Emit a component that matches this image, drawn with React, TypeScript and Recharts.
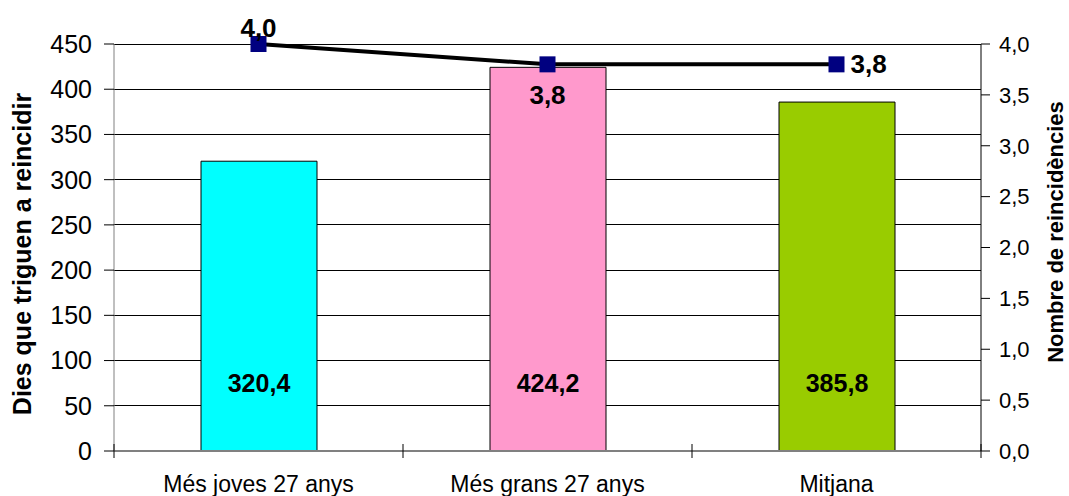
import React from 'react';
import {
  ComposedChart,
  Bar,
  Line,
  XAxis,
  YAxis,
  CartesianGrid,
  Cell,
  LabelList
} from 'recharts';

const categories = ['Més joves 27 anys', 'Més grans 27 anys', 'Mitjana'];
const diesReincidir = [320.4, 424.2, 385.8];
const nombreReincidencies = [4.0, 3.8, 3.8];
const barColors = ['#00FFFF', '#FF99CC', '#99CC00'];
const leftTicks = [0, 50, 100, 150, 200, 250, 300, 350, 400, 450];
const rightTicks = [0, 0.5, 1, 1.5, 2, 2.5, 3, 3.5, 4];

const data = categories.map((cat, i) => ({
  cat,
  dies: diesReincidir[i],
  reinc: nombreReincidencies[i]
}));

const W = 1069;
const H = 496;
const LEFT_W = 114;
const RIGHT_W = 88;
const PLOT_W = W - LEFT_W - RIGHT_W;
const FONT = '"Liberation Sans", Arial, sans-serif';

const comma = (v: number, d = 1) => v.toFixed(d).replace('.', ',');

const XTick = (props: any) => {
  const { x, y, payload, index } = props;
  const half = PLOT_W / categories.length / 2;
  return (
    <g>
      <line x1={x - half} x2={x - half} y1={y - 7} y2={y + 7} stroke="#000" />
      {index === categories.length - 1 && (
        <line x1={x + half} x2={x + half} y1={y - 7} y2={y + 7} stroke="#000" />
      )}
      <text x={x} y={y + 41} textAnchor="middle" fontSize={23} fontFamily={FONT} fill="#000">
        {payload.value}
      </text>
    </g>
  );
};

const BarLabel = (props: any) => {
  const { x, width, y, height, value } = props;
  return (
    <text
      x={x + width / 2}
      y={y + height - 68}
      textAnchor="middle"
      dominantBaseline="central"
      fontSize={25}
      fontWeight="bold"
      fontFamily={FONT}
      fill="#000"
    >
      {comma(value)}
    </text>
  );
};

const LineLabel = (props: any) => {
  const { x, y, value, index } = props;
  let tx = x;
  let ty = y;
  let anchor: 'middle' | 'start' = 'middle';
  if (index === 0) ty = y - 16;
  else if (index === 1) ty = y + 31;
  else {
    tx = x + 14;
    anchor = 'start';
  }
  return (
    <text
      x={tx}
      y={ty}
      textAnchor={anchor}
      dominantBaseline="central"
      fontSize={26}
      fontWeight="bold"
      fontFamily={FONT}
      fill="#000"
    >
      {comma(value)}
    </text>
  );
};

const SquareDot = (props: any) => {
  const { cx, cy, index } = props;
  return (
    <rect key={`dot-${index}`} x={cx - 8} y={cy - 8} width={16} height={16} fill="#000080" />
  );
};

export default function App() {
  return (
    <div style={{ position: 'absolute', left: 0, top: 0, background: '#fff' }}>
      <ComposedChart
        width={W}
        height={H}
        data={data}
        margin={{ top: 44, right: 0, bottom: 0, left: 0 }}
      >
        <CartesianGrid
          vertical={false}
          stroke="#000"
          strokeOpacity={1}
          shapeRendering="crispEdges"
          yAxisId="left"
        />
        <XAxis
          dataKey="cat"
          height={45}
          tick={<XTick />}
          tickLine={false}
          tickSize={0}
          tickMargin={0}
          axisLine={{ stroke: '#808080', strokeWidth: 2 }}
          interval={0}
        />
        <YAxis
          yAxisId="left"
          width={LEFT_W}
          domain={[0, 450]}
          ticks={leftTicks}
          interval={0}
          tickSize={10}
          tickMargin={12}
          axisLine={{ stroke: '#808080' }}
          tickLine={{ stroke: '#000' }}
          tick={{ fontSize: 25, fill: '#000', fontFamily: FONT }}
          label={{
            content: () => (
              <text
                x={22}
                y={254}
                transform="rotate(-90 22 254)"
                textAnchor="middle"
                dominantBaseline="central"
                fontSize={25}
                fontWeight="bold"
                fontFamily={FONT}
                fill="#000"
              >
                Dies que triguen a reincidir
              </text>
            )
          }}
        />
        <YAxis
          yAxisId="right"
          orientation="right"
          width={RIGHT_W}
          domain={[0, 4]}
          ticks={rightTicks}
          interval={0}
          tickSize={9}
          tickMargin={9}
          tickFormatter={(v: number) => comma(v)}
          axisLine={{ stroke: '#000' }}
          tickLine={{ stroke: '#000' }}
          tick={{ fontSize: 22, fill: '#000', fontFamily: FONT }}
          label={{
            content: () => (
              <text
                x={1055}
                y={232}
                transform="rotate(-90 1055 232)"
                textAnchor="middle"
                dominantBaseline="central"
                fontSize={22}
                fontWeight="bold"
                fontFamily={FONT}
                fill="#000"
              >
                Nombre de reincidències
              </text>
            )
          }}
        />
        <Bar
          yAxisId="left"
          dataKey="dies"
          barSize={116}
          stroke="#000"
          strokeWidth={1}
          isAnimationActive={false}
        >
          {data.map((d, i) => (
            <Cell key={d.cat} fill={barColors[i]} />
          ))}
          <LabelList dataKey="dies" content={<BarLabel />} />
        </Bar>
        <Line
          yAxisId="right"
          dataKey="reinc"
          type="linear"
          stroke="#000"
          strokeWidth={4}
          dot={(p: any) => <SquareDot {...p} />}
          activeDot={false}
          isAnimationActive={false}
        >
          <LabelList dataKey="reinc" content={<LineLabel />} />
        </Line>
      </ComposedChart>
    </div>
  );
}
